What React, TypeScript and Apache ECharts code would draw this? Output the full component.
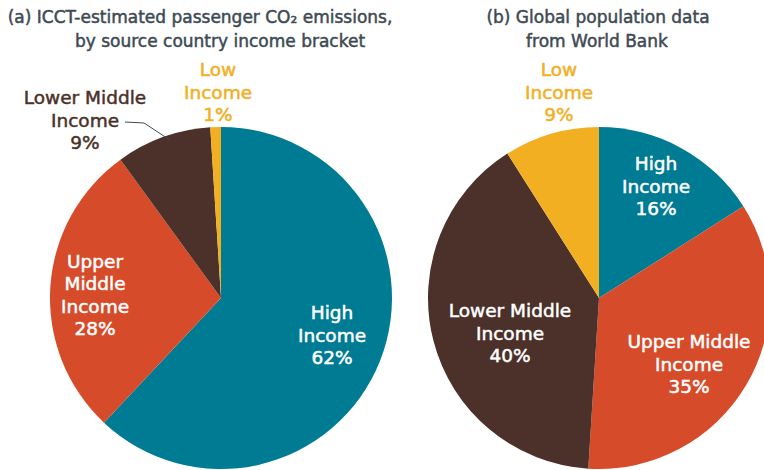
import { useEffect, useRef } from "react";
import * as echarts from "echarts";

const categories = ["High Income", "Upper Middle Income", "Lower Middle Income", "Low Income"];
const emissionsShare = [62, 28, 9, 1];
const populationShare = [16, 35, 40, 9];
const emissionsLabels = ["High\nIncome", "Upper\nMiddle\nIncome", "Lower Middle\nIncome", "Low\nIncome"];
const populationLabels = ["High\nIncome", "Upper Middle\nIncome", "Lower Middle\nIncome", "Low\nIncome"];
const titleA = ["(a) ICCT-estimated passenger CO₂ emissions,", "by source country income bracket"];
const titleB = ["(b) Global population data", "from World Bank"];

const COLORS = ["#007B94", "#D64B2A", "#4B3129", "#F2AF22"];
const FONT = "'DejaVu Sans', sans-serif";
const TITLE_COLOR = "#3E4A53";

// label anchor points (layout, not data)
const LABEL_POS = [
  [[332, 335], [95, 295], [85, 120], [218, 92]],
  [[656, 186], [689, 364], [510, 333], [559, 92]],
];
// label colors: inside white, outside coloured
const LABEL_COLOR = [
  ["#ffffff", "#ffffff", COLORS[2], COLORS[3]],
  ["#ffffff", "#ffffff", "#ffffff", COLORS[3]],
];

export default function App() {
  const ref = useRef<HTMLDivElement>(null);
  useEffect(() => {
    if (!ref.current) return;
    const chart = echarts.init(ref.current, null, { renderer: "svg" });
    const makeSeries = (idx: number, values: number[], labels: string[], center: number[]) => ({
      type: "pie",
      center,
      radius: 171,
      startAngle: 90,
      clockwise: true,
      avoidLabelOverlap: false,
      silent: true,
      itemStyle: { borderWidth: 0 },
      labelLine: { show: false },
      data: categories.map((name, i) => ({
        name,
        value: values[i],
        itemStyle: { color: COLORS[i] },
        label: {
          show: true,
          position: "inside",
          formatter: `${labels[i]}\n${values[i]}%`,
          color: LABEL_COLOR[idx][i],
          textBorderColor: LABEL_COLOR[idx][i],
          textBorderWidth: 0.5,
          fontFamily: FONT,
          fontSize: 18.5,
          lineHeight: 22.5,
          align: "center",
        },
      })),
      labelLayout: (p: any) => {
        const pos = LABEL_POS[idx][p.dataIndex];
        return { x: pos[0], y: pos[1], align: "center", verticalAlign: "middle" };
      },
    });
    const titleText = (text: string, x: number, y: number) => ({
      type: "text",
      x,
      y,
      silent: true,
      style: {
        text,
        fill: TITLE_COLOR,
        stroke: TITLE_COLOR,
        lineWidth: 0.5,
        font: `17px ${FONT}`,
        align: "center",
        verticalAlign: "middle",
      },
    });
    chart.setOption({
      animation: false,
      series: [
        makeSeries(0, emissionsShare, emissionsLabels, [221, 298]),
        makeSeries(1, populationShare, populationLabels, [599, 298]),
      ],
      graphic: [
        titleText(titleA[0], 200, 17),
        titleText(titleA[1], 220, 41),
        titleText(titleB[0], 598, 17),
        titleText(titleB[1], 597, 41),
        {
          type: "polyline",
          silent: true,
          shape: { points: [[125, 122], [144, 123], [170, 140]] },
          style: { stroke: TITLE_COLOR, lineWidth: 1, fill: null },
          z: 10,
        },
      ],
    });
    return () => chart.dispose();
  }, []);
  return (
    <div
      ref={ref}
      style={{ position: "absolute", left: 0, top: 0, width: 764, height: 470 }}
    />
  );
}
